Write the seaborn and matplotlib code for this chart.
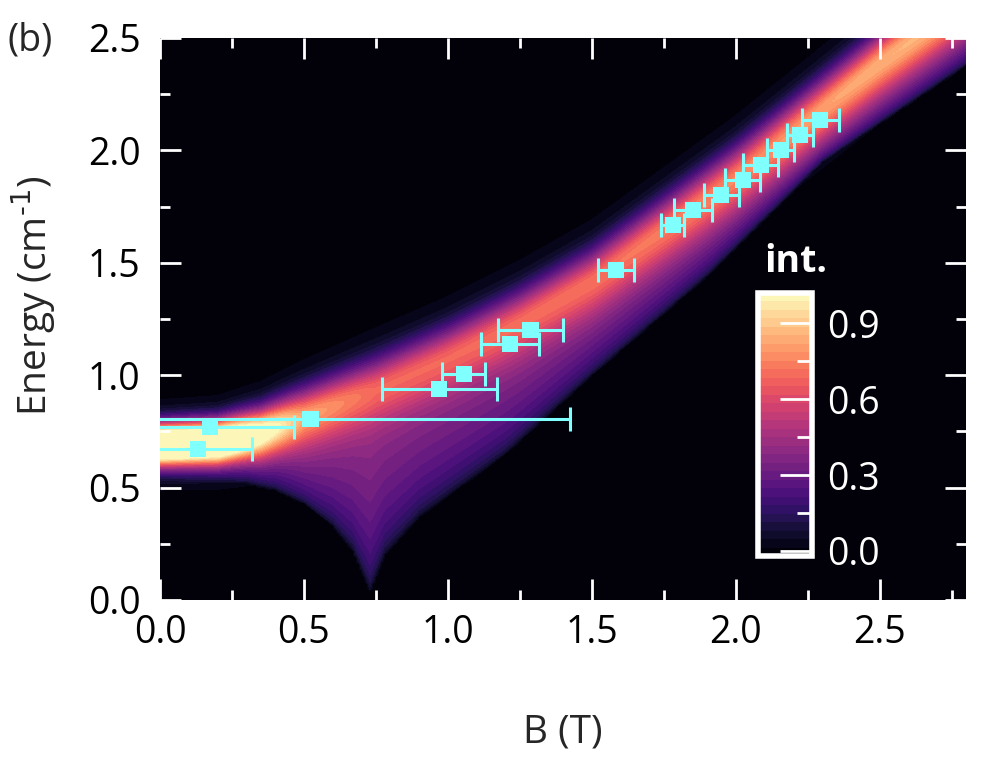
import numpy as np
import matplotlib
matplotlib.use('Agg')
import matplotlib.pyplot as plt
import seaborn as sns
from matplotlib.ticker import MultipleLocator

sns.set_style('ticks')
plt.rcParams['font.family'] = ['Open Sans', 'DejaVu Sans']
plt.rcParams['mathtext.default'] = 'regular'

# measured points (B in T, energy in cm^-1, horizontal error)
b_pts = [0.133, 0.173, 0.523, 0.970, 1.055, 1.217, 1.287, 1.583,
         1.782, 1.852, 1.950, 2.024, 2.087, 2.156, 2.223, 2.294]
e_pts = [0.672, 0.768, 0.805, 0.939, 1.005, 1.140, 1.202, 1.469,
         1.668, 1.736, 1.802, 1.869, 1.935, 2.000, 2.068, 2.137]
b_err = [0.188, 0.293, 0.902, 0.200, 0.075, 0.101, 0.114, 0.063,
         0.040, 0.066, 0.060, 0.060, 0.060, 0.047, 0.045, 0.064]

# simulated intensity map, described by its main ridge
ridge_b = [0.0, 0.2, 0.35, 0.5, 0.75, 1.0, 1.25, 1.5, 2.0, 2.5, 2.8]
ridge_e = [0.69, 0.70, 0.74, 0.81, 0.93, 1.07, 1.23, 1.41, 1.87, 2.38, 2.66]
ridge_amp = [1.6, 1.4, 0.75, 0.35, 0.24, 0.24, 0.24, 0.25, 0.3, 0.38, 0.4]
ridge_wid = [0.065, 0.068, 0.078, 0.09, 0.1, 0.1, 0.1, 0.1, 0.1, 0.1, 0.1]
tail_amp = [0.0, 0.12, 0.38, 0.48, 0.45, 0.45, 0.46, 0.46, 0.46, 0.47, 0.47]
# lower edge of the weak continuum below the ridge
floor_b = [0.0, 0.3, 0.4, 0.5, 0.6, 0.67, 0.73, 0.78, 0.9, 1.2, 1.5, 1.9, 2.3, 2.8]
floor_e = [0.52, 0.52, 0.49, 0.43, 0.33, 0.22, 0.04, 0.20, 0.37, 0.65, 1.0, 1.44, 1.95, 2.38]

b = np.linspace(0, 2.8, 281)
e = np.linspace(0, 2.5, 251)
BB, EE = np.meshgrid(b, e)
ec = np.interp(BB, ridge_b, ridge_e)
amp = np.interp(BB, ridge_b, ridge_amp)
wid = np.interp(BB, ridge_b, ridge_wid)
at = np.interp(BB, ridge_b, tail_amp)
el = np.interp(BB, floor_b, floor_e)

gauss = np.exp(-(EE - ec) ** 2 / (2 * wid ** 2))
frac = np.clip((EE - el) / (ec - el), 0, 1)
tail = np.where(EE < ec, at * frac ** 0.45, at * gauss)
inten = np.clip(amp * gauss + tail, 0, 1.019)

fig = plt.figure(figsize=(10.04, 7.67), dpi=100)
ax = fig.add_axes([160 / 1004, 167 / 767, 806 / 1004, 562 / 767])
ax.set_facecolor('black')
ax.set_axisbelow(False)

levels = np.linspace(-0.02, 1.02, 32)
cs = ax.contourf(b, e, inten, levels=levels, cmap='magma')

cyan = '#80ffff'
ax.errorbar(b_pts, e_pts, xerr=b_err, fmt='none', ecolor=cyan,
            elinewidth=2.2, capsize=8.5, capthick=2.2, zorder=4)
sns.scatterplot(x=b_pts, y=e_pts, marker='s', s=135, color=cyan,
                edgecolor='none', ax=ax, zorder=5, legend=False)

ax.set_xlim(0, 2.8)
ax.set_ylim(0, 2.5)
ax.xaxis.set_major_locator(MultipleLocator(0.5))
ax.xaxis.set_minor_locator(MultipleLocator(0.25))
ax.yaxis.set_major_locator(MultipleLocator(0.5))
ax.yaxis.set_minor_locator(MultipleLocator(0.25))
ax.xaxis.set_major_formatter(plt.FormatStrFormatter('%.1f'))
ax.yaxis.set_major_formatter(plt.FormatStrFormatter('%.1f'))
ax.tick_params(which='both', direction='in', color='white', top=True, right=True,
               labelcolor='black', labelsize=27, width=2)
ax.tick_params(which='major', length=15)
ax.tick_params(which='minor', length=7.5)
ax.tick_params(axis='x', pad=10)
ax.tick_params(axis='y', pad=14)
for s in ax.spines.values():
    s.set_visible(False)

ax.set_xlabel('B (T)', fontsize=28)
ax.xaxis.label.set_verticalalignment('center')
ax.xaxis.set_label_coords(0.5, (600 - 733) / 562)
ax.set_ylabel('Energy (cm$^{\\text{-1}}$)', fontsize=28)
ax.yaxis.label.set_verticalalignment('center')
ax.yaxis.set_label_coords((33 - 160) / 806, (600 - 296) / 562)

fig.text(30 / 1004, 1 - 40 / 767, '(b)', fontsize=27, ha='center', va='center')

# colorbar inset
cax = fig.add_axes([758 / 1004, 1 - 556 / 767, 54 / 1004, 263 / 767])
cbar = fig.colorbar(cs, cax=cax, ticks=[0, 0.3, 0.6, 0.9])
cax.set_axisbelow(False)
cbar.outline.set_edgecolor('white')
cbar.outline.set_linewidth(4)
cax.yaxis.set_major_formatter(plt.FormatStrFormatter('%.1f'))
cax.yaxis.set_minor_locator(MultipleLocator(0.15))
cax.tick_params(which='both', direction='in', colors='white', width=2,
                labelsize=27, pad=11)
cax.tick_params(which='major', length=23)
cax.tick_params(which='minor', length=11)
fig.text(796 / 1004, 1 - 262 / 767, 'int.', fontsize=27, fontweight='bold',
         color='white', ha='center', va='center')

fig.savefig('out.png', dpi=100)
